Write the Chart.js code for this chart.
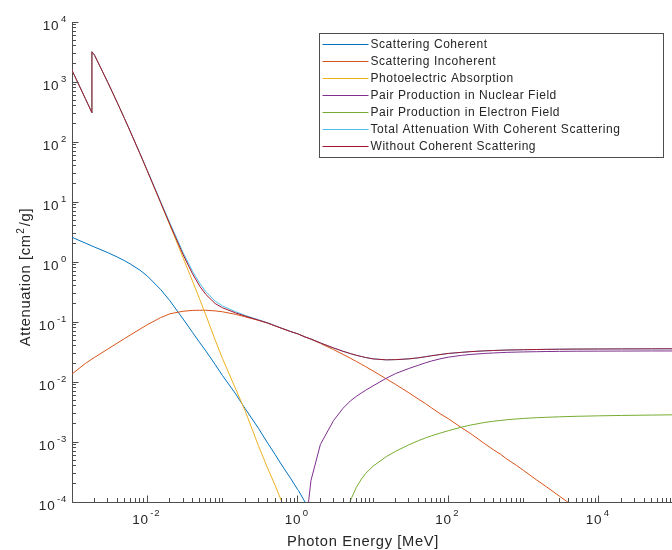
<!DOCTYPE html>
<html>
<head>
<meta charset="utf-8">
<title>Photon attenuation</title>
<script src="https://cdn.jsdelivr.net/npm/chart.js@4.4.1/dist/chart.umd.min.js"></script>
<style>
  html, body { margin: 0; padding: 0; background: #fff; overflow: hidden; }
  #wrap { width: 700px; height: 550px; }
</style>
</head>
<body>
<div id="wrap"><canvas id="attChart" width="700" height="550"></canvas></div>
<script>
(function () {
    'use strict'

    // photon energy [MeV]; the K edge at 1.839 keV shows up twice
    const energies = [
        0.001, 0.0015, 0.001839, 0.001839, 0.002, 0.003, 0.004, 0.005, 0.006, 0.008,
        0.01, 0.015, 0.02, 0.03, 0.04, 0.05, 0.06, 0.08, 0.1, 0.15,
        0.2, 0.3, 0.4, 0.5, 0.6, 0.8, 1, 1.022, 1.25, 1.5,
        2, 2.044, 3, 4, 5, 6, 7, 8, 10, 15,
        20, 30, 40, 50, 60, 80, 100, 150, 200, 300,
        400, 500, 600, 800, 1000, 1500, 2000, 3000, 5000, 10000,
        20000, 50000, 100000
    ]

    // mass attenuation [cm2/g]
    const coherent = [
        2.58, 2.07, 1.85, 1.85, 1.77, 1.43, 1.21, 1.05, 0.92, 0.73,
        0.585, 0.35, 0.226, 0.112, 0.067, 0.045, 0.033, 0.0195, 0.0128, 0.0063,
        0.0036, 0.0017, 0.00095, 0.00062, 0.00043, 0.00025, 0.00016, 0.000155, 0.0001, 0.000071,
        0.00004, null, null, null, null, null, null, null, null, null,
        null, null, null, null, null, null, null, null, null, null,
        null, null, null, null, null, null, null, null, null, null,
        null, null, null
    ]
    const incoherent = [
        0.0136, 0.0203, 0.0241, 0.0241, 0.0258, 0.0355, 0.0445, 0.0530, 0.0610, 0.0760,
        0.0900, 0.118, 0.137, 0.151, 0.156, 0.157, 0.157, 0.153, 0.148, 0.134,
        0.122, 0.1066, 0.0956, 0.0861, 0.0791, 0.0695, 0.0634, 0.0628, 0.0563, 0.0517,
        0.0440, 0.0433, 0.0346, 0.0288, 0.0249, 0.0220, 0.0198, 0.0180, 0.0153, 0.0113,
        0.0091, 0.0066, 0.0052, 0.00435, 0.0037, 0.0029, 0.00245, 0.00173, 0.00137, 0.00095,
        0.00074, 0.00062, 0.00052, 0.00041, 0.000336, 0.000232, 0.000181, 0.000125, 0.000079, 0.000042,
        0.0000225, 0.0000095, 0.000005
    ]
    const photoelectric = [
        1567, 533, 307.3, 3190, 2775, 977, 451.6, 243.8, 145.9, 63.8,
        33.1, 9.82, 4.10, 1.17, 0.478, 0.236, 0.131, 0.050, 0.0245, 0.0076,
        0.0033, 0.00087, 0.00036, 0.00019, 0.000108, 0.000048, 0.000028, null, null, null,
        null, null, null, null, null, null, null, null, null, null,
        null, null, null, null, null, null, null, null, null, null,
        null, null, null, null, null, null, null, null, null, null,
        null, null, null
    ]
    const pairNuclear = [
        null, null, null, null, null, null, null, null, null, null,
        null, null, null, null, null, null, null, null, null, null,
        null, null, null, null, null, null, null, null, 0.000031, 0.00023,
        0.00091, 0.00096, 0.00229, 0.00365, 0.00483, 0.00575, 0.00655, 0.00729, 0.00862, 0.01154,
        0.01383, 0.0168, 0.0190, 0.0209, 0.0224, 0.0245, 0.0259, 0.0278, 0.0288, 0.0299,
        0.0305, 0.0309, 0.0312, 0.0315, 0.0317, 0.0320, 0.0322, 0.0324, 0.0326, 0.0327,
        0.0328, 0.0329, 0.0329
    ]
    const pairElectron = [
        null, null, null, null, null, null, null, null, null, null,
        null, null, null, null, null, null, null, null, null, null,
        null, null, null, null, null, null, null, null, null, null,
        null, null, null, 0.00003, 0.000105, 0.000175, 0.00024, 0.0003, 0.000395, 0.00057,
        0.0007, 0.0009, 0.00105, 0.00117, 0.00127, 0.00142, 0.00154, 0.00177, 0.00192, 0.00211,
        0.00222, 0.00229, 0.00235, 0.00242, 0.00247, 0.00254, 0.00258, 0.00263, 0.00268, 0.00273,
        0.00277, 0.00281, 0.00284
    ]
    const totalWithCoherent = [
        1569.6, 535.1, 309.2, 3191.9, 2776.8, 978.5, 452.9, 244.9, 146.9, 64.6,
        33.78, 10.29, 4.46, 1.43, 0.701, 0.438, 0.321, 0.2225, 0.1853, 0.1479,
        0.1289, 0.1092, 0.0969, 0.0869, 0.0796, 0.0698, 0.0636, 0.0630, 0.0564, 0.0520,
        0.0449, 0.0443, 0.0369, 0.0325, 0.0298, 0.0279, 0.0266, 0.0256, 0.0243, 0.0234,
        0.0236, 0.0243, 0.0253, 0.0264, 0.0274, 0.0288, 0.0299, 0.0312, 0.0321, 0.0330,
        0.0335, 0.0338, 0.0341, 0.0343, 0.0345, 0.0348, 0.0350, 0.0352, 0.0354, 0.0355,
        0.0356, 0.0357, 0.0358
    ]
    const totalWithoutCoherent = [
        1567.0, 533.0, 307.3, 3190.0, 2775.0, 977.0, 451.6, 243.9, 146.0, 63.9,
        33.19, 9.94, 4.24, 1.32, 0.634, 0.393, 0.288, 0.203, 0.1725, 0.1416,
        0.1253, 0.1075, 0.0960, 0.0863, 0.0792, 0.0695, 0.0634, 0.0628, 0.0563, 0.0519,
        0.0449, 0.0443, 0.0369, 0.0325, 0.0298, 0.0279, 0.0266, 0.0256, 0.0243, 0.0234,
        0.0236, 0.0243, 0.0253, 0.0264, 0.0274, 0.0288, 0.0299, 0.0312, 0.0321, 0.0330,
        0.0335, 0.0338, 0.0341, 0.0343, 0.0345, 0.0348, 0.0350, 0.0352, 0.0354, 0.0355,
        0.0356, 0.0357, 0.0358
    ]

    const seriesNames = [
        'Scattering Coherent',
        'Scattering Incoherent',
        'Photoelectric Absorption',
        'Pair Production in Nuclear Field',
        'Pair Production in Electron Field',
        'Total Attenuation With Coherent Scattering',
        'Without Coherent Scattering'
    ]
    const seriesValues = [coherent, incoherent, photoelectric, pairNuclear, pairElectron,
        totalWithCoherent, totalWithoutCoherent]
    const colors = ['#0072BD', '#D95319', '#EDB120', '#7E2F8E', '#77AC30', '#4DBEEE', '#A2142F']

    // decades that get a labelled tick
    const xTickExponents = [-2, 0, 2, 4]
    const yTickExponents = [-4, -3, -2, -1, 0, 1, 2, 3, 4]

    const fontFamily = "'Liberation Sans', Arial, Helvetica, sans-serif"
    const axisColor = '#4d4d4d'
    const textColor = '#262626'

    const datasets = seriesValues.map((values, i) => ({
        label: seriesNames[i],
        data: energies.map((e, j) => ({ x: e, y: values[j] })),
        borderColor: colors[i],
        backgroundColor: colors[i],
        borderWidth: 1,
        pointRadius: 0,
        tension: 0,
        fill: false,
        // later series sit on top
        order: seriesValues.length - i
    }))

    // "10" with a raised exponent
    function drawPower(ctx, exp, x, y, align) {
        ctx.font = '13.5px ' + fontFamily
        const wBase = ctx.measureText('10').width
        ctx.font = '9.5px ' + fontFamily
        const wExp = ctx.measureText(String(exp)).width
        const gap = 1.5
        const total = wBase + gap + wExp
        const left = align === 'right' ? x - total : x - total / 2
        ctx.font = '13.5px ' + fontFamily
        ctx.fillText('10', left, y)
        ctx.font = '9.5px ' + fontFamily
        ctx.fillText(String(exp), left + wBase + gap, y - 7.8)
    }

    const axisDecor = {
        id: 'axisDecor',
        afterDraw(chart) {
            const ctx = chart.ctx
            const xs = chart.scales.x
            const ys = chart.scales.y
            const area = chart.chartArea

            ctx.save()
            // inward tick marks
            ctx.strokeStyle = axisColor
            ctx.lineWidth = 1
            ctx.beginPath()
            for (let d = -3; d <= 4; d++) {
                for (let m = 1; m <= 9; m++) {
                    const v = m * Math.pow(10, d)
                    if (v <= xs.min * 1.0001 || v >= xs.max) continue
                    const px = Math.floor(xs.getPixelForValue(v)) + 0.5
                    const len = (m === 1 && xTickExponents.includes(d)) ? 6.5 : 4
                    ctx.moveTo(px, area.bottom)
                    ctx.lineTo(px, area.bottom - len)
                }
            }
            for (let d = -4; d <= 3; d++) {
                for (let m = 1; m <= 9; m++) {
                    const v = m * Math.pow(10, d)
                    if (v <= ys.min * 1.0001 || v > ys.max * 1.0001) continue
                    const py = Math.floor(ys.getPixelForValue(v)) + 0.5
                    const len = m === 1 ? 6.5 : 4
                    ctx.moveTo(area.left, py)
                    ctx.lineTo(area.left + len, py)
                }
            }
            const topPx = Math.floor(ys.getPixelForValue(ys.max)) + 0.5
            ctx.moveTo(area.left, topPx)
            ctx.lineTo(area.left + 6.5, topPx)
            ctx.stroke()

            // tick labels
            ctx.fillStyle = textColor
            ctx.textAlign = 'left'
            ctx.textBaseline = 'alphabetic'
            ctx.letterSpacing = '0.8px'
            xTickExponents.forEach(e => {
                const px = xs.getPixelForValue(Math.pow(10, e))
                drawPower(ctx, e, px - 1, 524, 'center')
            })
            yTickExponents.forEach(e => {
                const py = ys.getPixelForValue(Math.pow(10, e))
                drawPower(ctx, e, 67, py + 8, 'right')
            })

            // axis titles
            ctx.letterSpacing = '0.65px'
            ctx.font = '14.7px ' + fontFamily
            ctx.textAlign = 'center'
            ctx.fillText('Photon Energy [MeV]', 363, 546)

            ctx.save()
            ctx.translate(30, 277)
            ctx.rotate(-Math.PI / 2)
            ctx.textAlign = 'left'
            const head = 'Attenuation [cm'
            const tail = '/g]'
            ctx.font = '14.7px ' + fontFamily
            const wHead = ctx.measureText(head).width
            const wTail = ctx.measureText(tail).width
            ctx.font = '10px ' + fontFamily
            const wSup = ctx.measureText('2').width
            const start = -(wHead + wSup + wTail + 2) / 2
            ctx.font = '14.7px ' + fontFamily
            ctx.fillText(head, start, 0)
            ctx.fillText(tail, start + wHead + wSup + 2, 0)
            ctx.font = '10px ' + fontFamily
            ctx.fillText('2', start + wHead + 0.5, -6.5)
            ctx.restore()

            // legend box
            const box = { x: 319.5, y: 33.5, w: 344, h: 124 }
            ctx.fillStyle = '#ffffff'
            ctx.fillRect(box.x, box.y, box.w, box.h)
            ctx.strokeStyle = axisColor
            ctx.strokeRect(box.x, box.y, box.w, box.h)
            ctx.letterSpacing = '0.55px'
            ctx.font = '12px ' + fontFamily
            ctx.textAlign = 'left'
            ctx.textBaseline = 'middle'
            chart.data.datasets.forEach((ds, i) => {
                const y = 44.5 + 17 * i
                ctx.strokeStyle = ds.borderColor
                ctx.beginPath()
                ctx.moveTo(322.5, y)
                ctx.lineTo(368.5, y)
                ctx.stroke()
                ctx.fillStyle = textColor
                ctx.fillText(ds.label, 370.5, y + 0.5)
            })
            ctx.restore()
        }
    }

    const logAxis = (min, max) => ({
        type: 'logarithmic',
        min: min,
        max: max,
        bounds: 'data',
        ticks: { display: false },
        grid: { display: false, drawTicks: false, tickLength: 0 },
        border: { display: true, color: axisColor, width: 1 }
    })

    const attChart = new Chart(document.getElementById('attChart'), {
        type: 'line',
        data: { datasets: datasets },
        options: {
            responsive: false,
            animation: false,
            layout: { padding: { left: 72, top: 22, right: 26, bottom: 48 } },
            plugins: {
                legend: { display: false },
                tooltip: { enabled: false }
            },
            scales: {
                x: logAxis(1e-3, 1e5),
                y: logAxis(1e-4, 1e4)
            }
        },
        plugins: [axisDecor]
    })
})()
</script>
</body>
</html>
